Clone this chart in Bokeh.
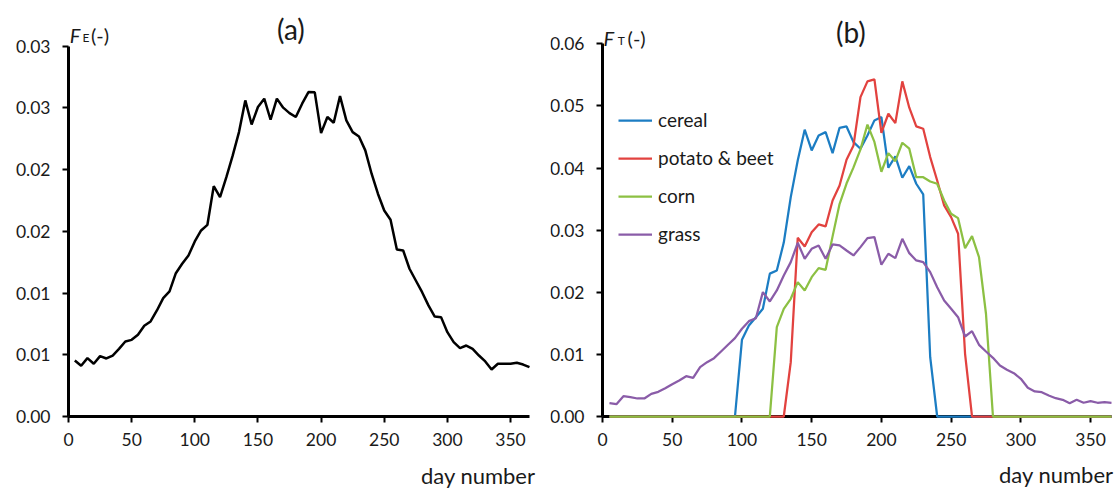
from bokeh.plotting import figure
from bokeh.models import ColumnDataSource, FixedTicker, Label, Legend, LegendItem, Range1d
from bokeh.layouts import row
from bokeh.embed import file_html
from bokeh.resources import INLINE

FONT = "Lato"

day = [5, 10, 15, 20, 25, 30, 35, 40, 45, 50, 55, 60, 65, 70, 75, 80, 85, 90, 95, 100,
       105, 110, 115, 120, 125, 130, 135, 140, 145, 150, 155, 160, 165, 170, 175, 180,
       185, 190, 195, 200, 205, 210, 215, 220, 225, 230, 235, 240, 245, 250, 255, 260,
       265, 270, 275, 280, 285, 290, 295, 300, 305, 310, 315, 320, 325, 330, 335, 340,
       345, 350, 355, 360, 365]

f_e = [0.00454, 0.00411, 0.00473, 0.00427, 0.00489, 0.00470, 0.00494, 0.00548, 0.00608, 0.00621,
       0.00662, 0.00735, 0.00770, 0.00859, 0.00959, 0.01013, 0.01161, 0.01237, 0.01305, 0.01418,
       0.01507, 0.01553, 0.01866, 0.01777, 0.01939, 0.02113, 0.02304, 0.02561, 0.02366, 0.02507,
       0.02575, 0.02404, 0.02575, 0.02502, 0.02458, 0.02426, 0.02534, 0.02628, 0.02626, 0.02296,
       0.02426, 0.02380, 0.02596, 0.02399, 0.02304, 0.02269, 0.02156, 0.01967, 0.01805, 0.01669,
       0.01594, 0.01353, 0.01345, 0.01197, 0.01102, 0.01007, 0.00900, 0.00810, 0.00805, 0.00683,
       0.00602, 0.00554, 0.00575, 0.00548, 0.00494, 0.00446, 0.00381, 0.00427, 0.00427, 0.00427,
       0.00435, 0.00421, 0.00400]

cereal = [0, 0, 0, 0, 0, 0, 0, 0, 0, 0, 0, 0, 0, 0, 0, 0, 0, 0, 0,
          0.01235, 0.01465, 0.01599, 0.01734, 0.02300, 0.02350, 0.02800, 0.03532, 0.04122,
          0.04617, 0.04283, 0.04525, 0.04578, 0.04240, 0.04648, 0.04670, 0.04417, 0.04311,
          0.04525, 0.04767, 0.04820, 0.04005, 0.04187, 0.03844, 0.04031, 0.03747, 0.03575,
          0.00955,
          0, 0, 0, 0, 0, 0, 0, 0, 0, 0, 0, 0, 0, 0, 0, 0, 0, 0, 0, 0, 0, 0, 0, 0, 0, 0]

potato_beet = [0, 0, 0, 0, 0, 0, 0, 0, 0, 0, 0, 0, 0, 0, 0, 0, 0, 0, 0, 0, 0, 0, 0, 0, 0, 0,
               0.00875, 0.02877, 0.02738, 0.02968, 0.03092, 0.03060, 0.03478, 0.03720, 0.04134,
               0.04364, 0.05142, 0.05395, 0.05427, 0.04565, 0.04874, 0.04723, 0.05395, 0.04971,
               0.04670, 0.04633, 0.04176, 0.03800, 0.03398, 0.03209, 0.02942, 0.01010,
               0, 0, 0, 0, 0, 0, 0, 0, 0, 0, 0, 0, 0, 0, 0, 0, 0, 0, 0, 0, 0]

corn = [0, 0, 0, 0, 0, 0, 0, 0, 0, 0, 0, 0, 0, 0, 0, 0, 0, 0, 0, 0, 0, 0, 0, 0,
        0.01438, 0.01734, 0.01895, 0.02163, 0.02029, 0.02243, 0.02388, 0.02362, 0.02900,
        0.03420, 0.03750, 0.04010, 0.04300, 0.04700, 0.04420, 0.03940, 0.04240, 0.04111,
        0.04407, 0.04311, 0.03853, 0.03853, 0.03784, 0.03747, 0.03478, 0.03264, 0.03193,
        0.02710, 0.02903, 0.02565, 0.01654,
        0, 0, 0, 0, 0, 0, 0, 0, 0, 0, 0, 0, 0, 0, 0, 0, 0, 0]

grass = [0.00215, 0.00199, 0.00327, 0.00311, 0.00290, 0.00290, 0.00365, 0.00397, 0.00456, 0.00520,
         0.00580, 0.00649, 0.00623, 0.00794, 0.00875, 0.00939, 0.01047, 0.01155, 0.01261, 0.01412,
         0.01535, 0.01583, 0.02002, 0.01852, 0.02029, 0.02270, 0.02485, 0.02797, 0.02539, 0.02700,
         0.02754, 0.02539, 0.02770, 0.02754, 0.02673, 0.02593, 0.02727, 0.02872, 0.02888, 0.02443,
         0.02620, 0.02549, 0.02861, 0.02630, 0.02512, 0.02485, 0.02324, 0.02082, 0.01868, 0.01734,
         0.01599, 0.01288, 0.01374, 0.01154, 0.01047, 0.00945, 0.00821, 0.00752, 0.00697, 0.00607,
         0.00462, 0.00403, 0.00391, 0.00338, 0.00295, 0.00269, 0.00214, 0.00269, 0.00221, 0.00246,
         0.00221, 0.00230, 0.00221]

series_names = ["cereal", "potato & beet", "corn", "grass"]
series_colors = ["#1C7DC3", "#E2423F", "#8CC043", "#8A5CA8"]

x_ticks = [0, 50, 100, 150, 200, 250, 300, 350]
x_bounds = (0, 365)
y_ticks_a = [0.0, 0.005, 0.01, 0.015, 0.02, 0.025, 0.03]
y_tick_labels_a = ["0.00", "0.01", "0.01", "0.02", "0.02", "0.03", "0.03"]
y_ticks_b = [0.0, 0.01, 0.02, 0.03, 0.04, 0.05, 0.06]
y_tick_labels_b = ["0.00", "0.01", "0.02", "0.03", "0.04", "0.05", "0.06"]

TEXT = "#1a1a1a"
TICK_SIZE = "17.5px"


def style(p, yticks, ylabels):
    p.xgrid.visible = False
    p.ygrid.visible = False
    p.outline_line_color = None
    p.background_fill_color = "white"
    p.border_fill_color = "white"
    p.xaxis.ticker = FixedTicker(ticks=x_ticks)
    p.yaxis.ticker = FixedTicker(ticks=yticks)
    p.yaxis.major_label_overrides = {t: l for t, l in zip(yticks, ylabels)}
    p.yaxis.bounds = (yticks[0], yticks[-1])
    p.xaxis.bounds = x_bounds
    p.xaxis.fixed_location = 0
    p.yaxis.fixed_location = 0
    for ax in (p.xaxis[0], p.yaxis[0]):
        ax.axis_line_width = 3
        ax.axis_line_color = "black"
        ax.major_tick_line_width = 2
        ax.major_tick_line_color = "black"
        ax.major_tick_out = 6
        ax.major_tick_in = 0
        ax.minor_tick_line_color = None
        ax.major_label_text_font = FONT
        ax.major_label_text_font_size = TICK_SIZE
        ax.major_label_text_color = TEXT
    p.yaxis.major_label_standoff = 12
    p.xaxis.major_label_standoff = 10


def add_label(p, x, y, text, size, style_="normal", align="left", baseline="alphabetic"):
    p.add_layout(Label(x=x, y=y, text=text, text_font=FONT, text_font_size=size,
                       text_font_style=style_, text_color=TEXT, text_align=align,
                       text_baseline=baseline))


# ---------- (a) ----------
p1 = figure(width=550, height=488, title=None, output_backend="svg", toolbar_location=None,
            x_range=Range1d(-53.84, 381.66), y_range=Range1d(-0.005833, 0.033702),
            min_border_left=0, min_border_right=0, min_border_top=0, min_border_bottom=0)
style(p1, y_ticks_a, y_tick_labels_a)
src_a = ColumnDataSource(dict(day=day, fe=f_e))
p1.line("day", "fe", source=src_a, line_color="black", line_width=2.5, level="overlay")

add_label(p1, 1.0, 0.030867, "F", "20px", style_="italic")
add_label(p1, 11.0, 0.030664, "E", "12px")
add_label(p1, 17.8, 0.030867, "(-)", "20px")
add_label(p1, 176.1, 0.031353, "(a)", "28px", align="center", baseline="middle")
add_label(p1, 369.8, -0.00478, "day number", "22px", align="right", baseline="middle")

# ---------- (b) ----------
p2 = figure(width=568, height=488, title=None, output_backend="svg", toolbar_location=None,
            x_range=Range1d(-37.29, 370.03), y_range=Range1d(-0.011591, 0.066972),
            min_border_left=0, min_border_right=0, min_border_top=0, min_border_bottom=0)
style(p2, y_ticks_b, y_tick_labels_b)
src_b = ColumnDataSource(dict(day=day, cereal=cereal, potato_beet=potato_beet, corn=corn, grass=grass))
items = []
for col, name, color in zip(["cereal", "potato_beet", "corn", "grass"], series_names, series_colors):
    r = p2.line("day", col, source=src_b, line_color=color, line_width=2.25, level="overlay")
    items.append(LegendItem(label=name, renderers=[r]))

legend = Legend(items=items, location=(68, 243), padding=0, margin=0,
                border_line_color=None, background_fill_alpha=0,
                glyph_width=34, glyph_height=20, label_height=20, label_standoff=6, spacing=15,
                label_text_font=FONT, label_text_font_size="19px", label_text_color=TEXT)
p2.add_layout(legend)

add_label(p2, 0.8, 0.0609, "F", "20px", style_="italic")
add_label(p2, 11.0, 0.06053, "T", "12px")
add_label(p2, 18.0, 0.0609, "(-)", "20px")
add_label(p2, 178.1, 0.0619, "(b)", "28px", align="center", baseline="middle")
add_label(p2, 366.5, -0.00934, "day number", "22px", align="right", baseline="middle")

layout = row(p1, p2)
open("out.html", "w").write(file_html(layout, INLINE))
